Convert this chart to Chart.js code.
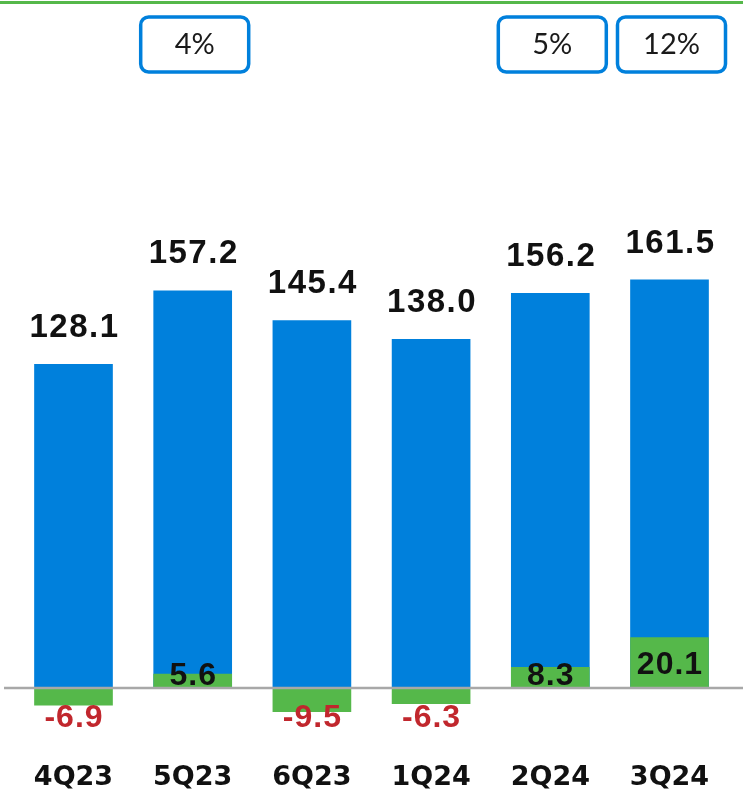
<!DOCTYPE html>
<html>
<head>
<meta charset="utf-8">
<script src="https://cdn.jsdelivr.net/npm/chart.js@4.4.1/dist/chart.umd.min.js"></script>
<style>
  html, body { margin: 0; padding: 0; background: #fff; }
</style>
</head>
<body>
<canvas id="myChart" width="743" height="794"></canvas>
<script>
const quarters = ["4Q23", "5Q23", "6Q23", "1Q24", "2Q24", "3Q24"];
const totals = [128.1, 157.2, 145.4, 138.0, 156.2, 161.5];
const changes = [-6.9, 5.6, -9.5, -6.3, 8.3, 20.1];
const growthTags = [null, "4%", null, null, "5%", "12%"];

const BLUE = "#0080dc";
const GREEN = "#55b84a";
const RED = "#c1272d";

// boxes with growth %, the top rule, the zero line and all value labels
const overlay = {
  id: "overlay",
  afterDatasetsDraw(chart) {
    const { ctx, scales } = chart;
    const zeroY = scales.y.getPixelForValue(0);
    ctx.save();

    // thin green rule across the top
    ctx.strokeStyle = GREEN;
    ctx.lineWidth = 3;
    ctx.beginPath();
    ctx.moveTo(0, 2.5);
    ctx.lineTo(chart.width, 2.5);
    ctx.stroke();

    // zero line
    ctx.strokeStyle = "#a8a8a8";
    ctx.lineWidth = 2.5;
    ctx.beginPath();
    ctx.moveTo(4, zeroY);
    ctx.lineTo(chart.width, zeroY);
    ctx.stroke();

    // growth boxes
    growthTags.forEach((tag, i) => {
      if (!tag) return;
      const cx = scales.x.getPixelForValue(i) + 2;
      ctx.strokeStyle = BLUE;
      ctx.lineWidth = 3.5;
      ctx.beginPath();
      ctx.roundRect(cx - 54, 17, 108, 55, 8);
      ctx.stroke();
      ctx.fillStyle = "#1a1a1a";
      ctx.font = "400 29px Lato";
      ctx.textAlign = "center";
      ctx.textBaseline = "middle";
      ctx.fillText(tag, cx, 45);
    });

    const blueBars = chart.getDatasetMeta(0).data;
    const greenBars = chart.getDatasetMeta(1).data;

    ctx.textAlign = "center";
    ctx.textBaseline = "alphabetic";
    ctx.letterSpacing = "1.5px";
    ctx.font = "bold 33px 'Liberation Sans', Arial";
    ctx.fillStyle = "#111";
    blueBars.forEach((bar, i) => {
      ctx.fillText(totals[i].toFixed(1), bar.x + 1, bar.y - 27);
    });

    ctx.letterSpacing = "1px";
    ctx.font = "bold 32px 'Liberation Sans', Arial";
    greenBars.forEach((bar, i) => {
      const v = changes[i];
      let capMid;
      if (v >= 0) {
        ctx.fillStyle = "#111";
        capMid = Math.min((bar.y + zeroY) / 2, zeroY - 14);
      } else {
        ctx.fillStyle = RED;
        capMid = zeroY + 28;
      }
      ctx.fillText(v.toFixed(1), bar.x + 0.5, capMid + 0.358 * 32);
    });

    ctx.restore();
  },
};

const ctx = document.getElementById("myChart").getContext("2d");
new Chart(ctx, {
  type: "bar",
  data: {
    labels: quarters,
    datasets: [
      {
        label: "Total",
        data: totals,
        backgroundColor: BLUE,
        grouped: false,
        order: 1,
        barPercentage: 0.66,
        categoryPercentage: 1,
      },
      {
        label: "Change",
        data: changes,
        backgroundColor: GREEN,
        grouped: false,
        order: 0,
        barPercentage: 0.66,
        categoryPercentage: 1,
      },
    ],
  },
  options: {
    responsive: false,
    animation: false,
    layout: {
      autoPadding: false,
      padding: { left: 13.5, right: 10.5, top: 0, bottom: 0 },
    },
    plugins: {
      legend: { display: false },
      tooltip: { enabled: false },
    },
    scales: {
      x: {
        grid: { display: false, drawTicks: false },
        border: { display: false },
        ticks: {
          padding: 33,
          color: "#111",
          font: { family: "'DejaVu Sans'", size: 27, weight: "bold" },
        },
        afterFit: (scale) => {
          scale.height = 65.5;
        },
      },
      y: {
        display: false,
        min: -16,
        max: 272,
      },
    },
  },
  plugins: [overlay],
});
</script>
</body>
</html>
